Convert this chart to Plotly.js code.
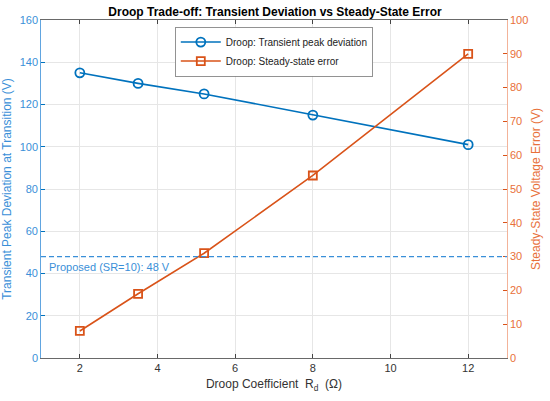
<!DOCTYPE html>
<html><head><meta charset="utf-8">
<script src="https://cdn.plot.ly/plotly-3.0.1.min.js"></script>
<style>html,body{margin:0;padding:0;background:#fff}#c{width:550px;height:401px}</style>
</head><body><div id="c"></div>
<script>
const droopR = [2, 3.5, 5.2, 8, 12];
const transientPeak = [135, 130, 125, 115, 101];
const steadyError = [8, 19, 31, 54, 90];
const proposedValue = 48;
const proposedLabel = 'Proposed (SR=10): 48 V';
const xTicks = [2, 4, 6, 8, 10, 12];
const yLeftTicks = [0, 20, 40, 60, 80, 100, 120, 140, 160];
const yRightTicks = [0, 10, 20, 30, 40, 50, 60, 70, 80, 90, 100];

const blue = '#0072BD', orange = '#D95319', lblue = '#3A8FD8';
const font = 'Liberation Sans, Arial, sans-serif';

const traces = [
  {x: droopR, y: transientPeak, name: 'Droop: Transient peak deviation', type: 'scatter', mode: 'lines+markers',
   line: {color: blue, width: 1.6}, marker: {symbol: 'circle-open', size: 9, color: blue, line: {width: 1.8, color: blue}}},
  {x: droopR, y: steadyError, name: 'Droop: Steady-state error', type: 'scatter', mode: 'lines+markers', yaxis: 'y2',
   line: {color: orange, width: 1.6}, marker: {symbol: 'square-open', size: 8, color: orange, line: {width: 1.8, color: orange}}}
];

const layout = {
  width: 550, height: 401,
  margin: {l: 41, r: 43, t: 20, b: 43},
  paper_bgcolor: '#fff', plot_bgcolor: '#fff',
  font: {family: font, size: 11},
  title: {text: '<b>Droop Trade-off: Transient Deviation vs Steady-State Error</b>', font: {size: 12, color: '#000'}, x: 0.5, xanchor: 'center', y: 0.982, yanchor: 'top'},
  showlegend: true,
  legend: {x: 0.5, xanchor: 'center', y: 0.98, yanchor: 'top', bordercolor: '#777', borderwidth: 0.8, bgcolor: '#fff',
    font: {size: 10, color: '#222'}, tracegroupgap: 0, itemwidth: 40},
  xaxis: {range: [1, 13], tickvals: xTicks, ticks: 'inside', ticklen: 4, tickcolor: '#444', showline: true, linecolor: '#444', linewidth: 0.8,
    mirror: 'ticks', showgrid: true, gridcolor: '#E6E6E6', zeroline: false, tickfont: {color: '#333', size: 11},
    title: {text: 'Droop Coefficient  R<sub>d</sub>  (Ω)', font: {size: 12, color: '#333'}, standoff: 6}},
  yaxis: {range: [0, 160], tickvals: yLeftTicks, ticks: 'inside', ticklen: 4, tickcolor: blue, showline: true, linecolor: lblue, linewidth: 0.8,
    showgrid: true, gridcolor: '#E6E6E6', zeroline: false, tickfont: {color: lblue, size: 11},
    title: {text: 'Transient Peak Deviation at Transition (V)', font: {size: 12, color: lblue}, standoff: 5}},
  yaxis2: {range: [0, 100], tickvals: yRightTicks, overlaying: 'y', side: 'right', ticks: 'inside', ticklen: 4, tickcolor: orange,
    showline: true, linecolor: '#F0A080', linewidth: 0.8, showgrid: false, zeroline: false, tickfont: {color: '#E8703A', size: 11},
    title: {text: 'Steady-State Voltage Error (V)', font: {size: 12, color: '#E8703A'}, standoff: 4}},
  shapes: [{type: 'line', xref: 'paper', yref: 'y', x0: 0, x1: 1, y0: proposedValue, y1: proposedValue,
    line: {color: lblue, width: 1.3, dash: '5px,3px'}}],
  annotations: [{xref: 'paper', yref: 'y', x: 0.012, y: proposedValue, xanchor: 'left', yanchor: 'top', yshift: -2,
    text: proposedLabel, showarrow: false, font: {size: 11, color: lblue}}]
};
Plotly.newPlot('c', traces, layout, {displayModeBar: false, staticPlot: true});
</script>
</body></html>
